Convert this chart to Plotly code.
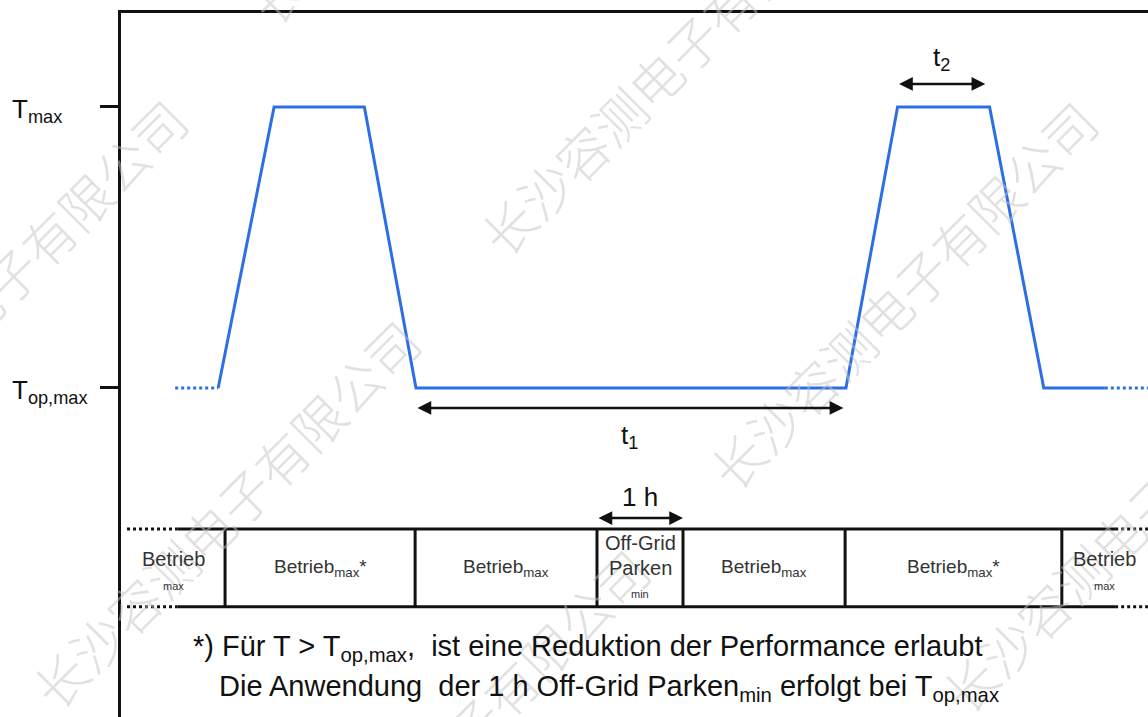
import plotly.graph_objects as go

# Time axis in hours; temperature axis normalised (0 = T_op,max, 1 = T_max)
time_h = [1.13, 1.78, 2.83, 3.43, 8.43, 9.03, 10.10, 10.73, 11.44]
temp_level = [0, 1, 1, 0, 0, 1, 1, 0, 0]
lead_in_h = [0.63, 1.13]
lead_out_h = [11.44, 11.94]

level_ticks = [0, 1]
level_tick_text = ["T<sub>op,max</sub>", "T<sub>max</sub>"]

# Operating phases shown in the strip below the profile
phase_edges_h = [0, 1.21, 3.42, 5.535, 6.535, 8.42, 10.94, 11.94]
phase_labels = [
    "Betrieb|max",
    "Betrieb<sub>max</sub>*",
    "Betrieb<sub>max</sub>",
    "Off-Grid|Parken|min",
    "Betrieb<sub>max</sub>",
    "Betrieb<sub>max</sub>*",
    "Betrieb|max",
]

# Durations marked with double arrows: (start, end, level, label, label level)
durations = [
    (3.43, 8.40, -0.071, "t<sub>1</sub>", -0.174),
    (9.03, 10.05, 1.082, "t<sub>2</sub>", 1.174),
    (5.535, 6.535, -0.463, "1 h", -0.388),
]

footnote_lines = [
    "*) Für T > T<sub>op,max</sub>,  ist eine Reduktion der Performance erlaubt",
    "Die Anwendung  der 1 h Off-Grid Parken<sub>min</sub> erfolgt bei T<sub>op,max</sub>",
]
footnote_pos = [(5.42, -0.925), (5.67, -1.068)]

watermark_text = "长沙容测电子有限公司"
watermark_pos = [(-1.49, 0.338), (6.42, 1.167), (1.21, -0.445), (9.09, 0.331),
                 (11.79, -0.463), (3.88, -1.263), (3.74, 1.986)]

X_RANGE = [0, 11.942]
Y_RANGE = [-1.171, 1.3345]
ROW_TOP, ROW_BOT = -0.502, -0.779
ROW_SOLID = [0.66, 11.56]

BLUE = "#2c6fe4"
INK = "#111111"
TEXT = "#333333"
FONT = "Liberation Sans, Arial, sans-serif"

fig = go.Figure()

fig.add_trace(go.Scatter(x=time_h, y=temp_level, mode="lines",
                         line=dict(color=BLUE, width=3), hoverinfo="skip"))
for seg in (lead_in_h, lead_out_h):
    fig.add_trace(go.Scatter(x=seg, y=[0, 0], mode="lines",
                             line=dict(color=BLUE, width=3, dash="dot"),
                             hoverinfo="skip"))

shapes = []
# strip borders: solid middle, dotted continuation at both ends
for yy in (ROW_TOP, ROW_BOT):
    shapes.append(dict(type="line", xref="x", yref="y", x0=ROW_SOLID[0], x1=ROW_SOLID[1],
                       y0=yy, y1=yy, line=dict(color=INK, width=3)))
    shapes.append(dict(type="line", xref="x", yref="y", x0=X_RANGE[0] + 0.07, x1=ROW_SOLID[0],
                       y0=yy, y1=yy, line=dict(color=INK, width=3, dash="dot")))
    shapes.append(dict(type="line", xref="x", yref="y", x0=ROW_SOLID[1], x1=X_RANGE[1],
                       y0=yy, y1=yy, line=dict(color=INK, width=3, dash="dot")))
for edge in phase_edges_h[1:-1]:
    shapes.append(dict(type="line", xref="x", yref="y", x0=edge, x1=edge,
                       y0=ROW_TOP, y1=ROW_BOT, line=dict(color=INK, width=3)))

annotations = []


def to_paper(x, y):
    return ((x - X_RANGE[0]) / (X_RANGE[1] - X_RANGE[0]),
            (y - Y_RANGE[0]) / (Y_RANGE[1] - Y_RANGE[0]))


# faint diagonal company mark behind the diagram text
for wx, wy in watermark_pos:
    px, py = to_paper(wx, wy)
    annotations.append(dict(x=px, y=py, xref="paper", yref="paper", text=watermark_text,
                            xanchor="center", yanchor="middle",
                            textangle=-45, showarrow=False, opacity=0.5,
                            font=dict(family="Noto Sans CJK SC", size=52, color="#c4c4c4",
                                      weight=300)))

row_mid = (ROW_TOP + ROW_BOT) / 2
for i, lab in enumerate(phase_labels):
    xc = (phase_edges_h[i] + phase_edges_h[i + 1]) / 2
    parts = lab.split("|")
    if len(parts) == 1:
        annotations.append(dict(x=xc, y=row_mid, text=parts[0], showarrow=False,
                                font=dict(family=FONT, size=19, color=TEXT)))
    else:
        n = len(parts)
        shifts = [9, -18] if n == 2 else [25, 0, -26]
        for j, p in enumerate(parts):
            small = j == n - 1
            annotations.append(dict(x=xc, y=row_mid, yshift=shifts[j], text=p, showarrow=False,
                                    font=dict(family=FONT, size=11 if small else 20, color=TEXT)))

for x0, x1, yy, lab, ly in durations:
    annotations.append(dict(x=x1, y=yy, ax=x0, ay=yy, xref="x", yref="y",
                            axref="x", ayref="y", text="", showarrow=True,
                            arrowhead=2, arrowsize=1.1, arrowwidth=2.5,
                            arrowside="end+start", arrowcolor=INK, standoff=0,
                            startstandoff=0))
    annotations.append(dict(x=(x0 + x1) / 2, y=ly, text=lab, showarrow=False,
                            font=dict(family=FONT, size=26, color=INK)))

for (fx, fy), line in zip(footnote_pos, footnote_lines):
    annotations.append(dict(x=fx, y=fy, text=line, showarrow=False,
                            font=dict(family=FONT, size=29, color=INK)))

# y-axis labels placed left-aligned in the margin
for lv, txt in zip(level_ticks, level_tick_text):
    annotations.append(dict(x=-0.108, xref="paper", y=lv, yref="y", text=txt,
                            xanchor="left", yanchor="middle", yshift=-4, showarrow=False,
                            font=dict(family=FONT, size=26, color=INK)))

fig.update_layout(
    width=1148, height=717,
    margin=dict(l=121, r=0, t=13, b=0),
    paper_bgcolor="white", plot_bgcolor="white",
    showlegend=False,
    shapes=shapes,
    annotations=annotations,
    xaxis=dict(range=X_RANGE, side="top", showline=True, linewidth=3, linecolor=INK,
               showgrid=False, zeroline=False, ticks="", showticklabels=False, fixedrange=True),
    yaxis=dict(range=Y_RANGE, showline=True, linewidth=3, linecolor=INK,
               showgrid=False, zeroline=False, tickvals=level_ticks, ticks="outside",
               ticklen=18, tickwidth=3, tickcolor=INK, showticklabels=False, fixedrange=True),
)

fig.write_html("out.html", config={"displayModeBar": False})
